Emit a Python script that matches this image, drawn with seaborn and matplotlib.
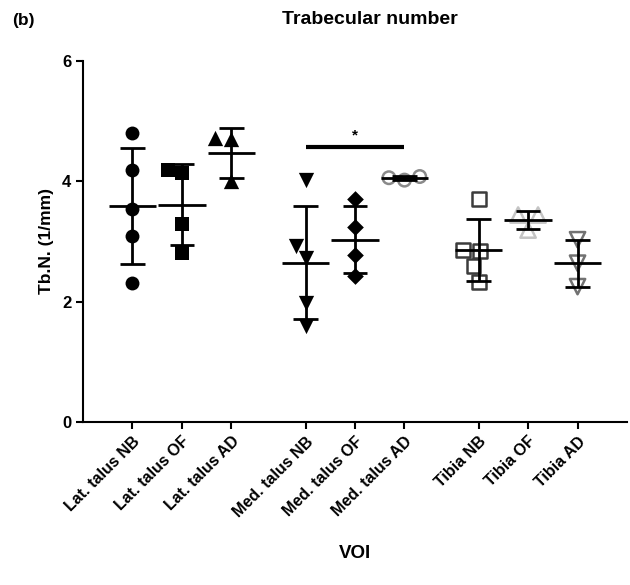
import numpy as np
import pandas as pd
import seaborn as sns
import matplotlib
matplotlib.use("Agg")
import matplotlib.pyplot as plt

# values (Tb.N., 1/mm)
groups = ["Lat. talus NB", "Lat. talus OF", "Lat. talus AD",
          "Med. talus NB", "Med. talus OF", "Med. talus AD",
          "Tibia NB", "Tibia OF", "Tibia AD"]
lat_nb = [4.80, 4.19, 3.54, 3.09, 2.31]
lat_of = [4.14, 4.19, 3.29, 2.81]
lat_ad = [4.72, 4.70, 4.00]
med_nb = [4.02, 2.92, 2.72, 1.98, 1.60]
med_of = [3.70, 3.24, 2.77, 2.42]
med_ad = [4.08, 4.02, 4.06]
tib_nb = [3.70, 2.86, 2.84, 2.59, 2.33]
tib_of = [3.44, 3.44, 3.19]
tib_ad = [3.03, 2.64, 2.25]
values = [lat_nb, lat_of, lat_ad, med_nb, med_of, med_ad, tib_nb, tib_of, tib_ad]

# marker style per group: (marker, size, edge colour, filled)
styles = [("o", 10, "black", True), ("s", 10, "black", True), ("^", 11, "black", True),
          ("v", 11, "black", True), ("D", 8.5, "black", True), ("o", 9, "#8a8a8a", False),
          ("s", 10, "#3c3c3c", False), ("^", 11, "#c4c4c4", False), ("v", 11, "#727272", False)]

sig_pair = ("Med. talus NB", "Med. talus AD")
sig_y = 4.57

sns.set_theme(style="ticks")
plt.rcParams["font.family"] = ["Liberation Sans", "DejaVu Sans"]
plt.rcParams["font.weight"] = "bold"
plt.rcParams["text.color"] = "black"
plt.rcParams["axes.labelcolor"] = "black"
plt.rcParams["axes.edgecolor"] = "black"
plt.rcParams["xtick.color"] = "black"
plt.rcParams["ytick.color"] = "black"

fig = plt.figure(figsize=(6.3, 5.85), dpi=100)
ax = fig.add_axes([83 / 630, 1 - 422 / 585, (627 - 83) / 630, (422 - 61) / 585])

# one gap of half a slot between the three regions
pos = [i + 0.5 * (i // 3) for i in range(len(groups))]

for p, vals, (mk, sz, col, filled) in zip(pos, values, styles):
    df = pd.DataFrame({"x": [p] * len(vals), "y": vals})
    sns.swarmplot(data=df, x="x", y="y", native_scale=True, ax=ax, marker=mk, size=sz,
                  color=col if filled else "white", edgecolor=col,
                  linewidth=0 if filled else 1.8, zorder=2)
    if not filled:
        ax.collections[-1].set_facecolor("none")
    m, sd = np.mean(vals), np.std(vals, ddof=1)
    ax.hlines(m, p - 0.48, p + 0.48, color="black", lw=2, zorder=3)
    ax.vlines(p, m - sd, m + sd, color="black", lw=2, zorder=3)
    ax.hlines([m - sd, m + sd], p - 0.25, p + 0.25, color="black", lw=2, zorder=3)

# significance bar
x0, x1 = pos[groups.index(sig_pair[0])], pos[groups.index(sig_pair[1])]
ax.plot([x0, x1], [sig_y, sig_y], color="black", lw=3, solid_capstyle="butt")
ax.text((x0 + x1) / 2, sig_y + 0.08, "*", ha="center", va="bottom", fontsize=11)

ax.set_xlim(-1, 10)
ax.set_ylim(0, 6)
ax.set_yticks([0, 2, 4, 6])
ax.set_xticks(pos)
ax.set_xticklabels(groups, rotation=45, ha="right", rotation_mode="anchor",
                   fontsize=11.5, fontweight="bold")
ax.tick_params(axis="y", labelsize=12, width=1.5, length=5)
ax.tick_params(axis="x", width=1.5, length=5)
for lab in ax.get_yticklabels():
    lab.set_fontweight("bold")
sns.despine(ax=ax)
ax.spines["left"].set_linewidth(1.5)
ax.spines["bottom"].set_linewidth(1.5)

ax.set_xlabel("")
ax.set_ylabel("Tb.N. (1/mm)", fontsize=12.5, fontweight="bold", labelpad=6)
fig.text(355 / 630, 1 - 553 / 585, "VOI", ha="center", va="center", fontsize=13.5, fontweight="bold")
fig.text(370 / 630, 1 - 20 / 585, "Trabecular number", ha="center", va="center",
         fontsize=14, fontweight="bold")
fig.text(12 / 630, 1 - 20 / 585, "(b)", ha="left", va="center", fontsize=12.5, fontweight="bold")

fig.savefig("out.png", dpi=100)
